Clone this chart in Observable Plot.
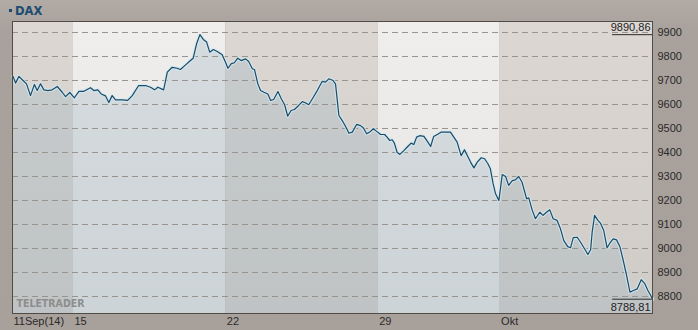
<!DOCTYPE html>
<html>
<head>
<meta charset="utf-8">
<script src="https://cdn.jsdelivr.net/npm/d3@7"></script>
<script src="https://cdn.jsdelivr.net/npm/@observablehq/plot@0.6"></script>
<style>
  html, body { margin: 0; padding: 0; background: #aaa29c; }
  #wrap { position: relative; width: 698px; height: 330px; overflow: hidden;
          background: linear-gradient(#b2aba5, #a9a19b 30px, #a8a09a); }
  #title { position: absolute; left: 9px; top: 4px; font: bold 11.5px "DejaVu Sans", sans-serif; color: #1b4b70; letter-spacing: 0px; }
  #title .b { display: inline-block; width: 3px; height: 3px; background: #1b4b70; vertical-align: middle; margin-right: 3px; position: relative; top: -1px; }
  #chart { position: absolute; left: 0; top: 0; }
</style>
</head>
<body>
<div id="wrap">
  <div id="chart"></div>
  <div id="title"><span class="b"></span>DAX</div>
</div>
<script>
// Trading-day position (0 = 11 Sep 2014 open, 21 = 10 Oct 2014 close)
const times = [
  0.02,0.10,0.21,0.37,0.46,0.59,0.72,0.81,0.92,1.03,1.16,1.30,1.47,1.63,1.74,1.88,
  2.03,2.18,2.34,2.56,2.67,2.80,2.91,3.05,3.16,3.27,3.38,3.60,3.78,3.93,4.14,4.36,
  4.53,4.66,4.77,4.96,5.08,5.24,5.40,5.51,5.68,5.84,5.93,6.04,6.15,6.26,6.37,6.47,
  6.59,6.72,6.88,6.99,7.07,7.18,7.28,7.39,7.50,7.65,7.75,7.87,7.94,8.05,8.14,8.25,
  8.38,8.47,8.57,8.71,8.82,8.93,9.03,9.14,9.25,9.39,9.51,9.61,9.72,9.87,10.00,10.16,
  10.27,10.38,10.52,10.60,10.71,10.82,10.93,11.04,11.15,11.29,11.42,11.51,11.62,11.72,
  11.84,11.94,12.08,12.21,12.29,12.38,12.46,12.53,12.62,12.71,12.84,12.97,13.08,13.17,
  13.26,13.36,13.50,13.63,13.72,13.82,13.94,14.07,14.21,14.37,14.48,14.59,14.72,14.83,
  14.94,15.03,15.14,15.25,15.38,15.49,15.60,15.68,15.77,15.85,15.96,16.07,16.18,16.28,
  16.40,16.50,16.61,16.72,16.87,16.94,17.05,17.16,17.30,17.41,17.52,17.63,17.74,17.87,
  17.98,18.09,18.22,18.31,18.40,18.53,18.64,18.77,18.88,18.97,19.02,19.10,19.21,19.29,
  19.40,19.51,19.60,19.71,19.82,19.93,20.04,20.15,20.26,20.37,20.50,20.63,20.74,20.85,
  20.96,21.00
];
const values = [
  9717,9689,9717,9697,9686,9637,9683,9658,9686,9661,9658,9661,9675,9651,9633,9650,
  9628,9655,9655,9670,9658,9661,9644,9636,9608,9637,9619,9619,9617,9637,9679,9679,
  9672,9661,9672,9661,9735,9755,9751,9746,9765,9783,9793,9853,9891,9871,9860,9818,
  9829,9821,9807,9776,9751,9770,9774,9793,9783,9790,9779,9749,9746,9686,9658,9651,
  9644,9617,9621,9654,9624,9599,9551,9575,9579,9596,9612,9607,9599,9630,9658,9696,
  9693,9707,9700,9685,9554,9533,9508,9480,9485,9517,9512,9503,9478,9485,
  9499,9489,9475,9475,9464,9450,9453,9439,9401,9392,9408,9425,9439,9433,
  9464,9470,9467,9443,9425,9467,9475,9485,9485,9485,9464,9443,9387,9411,
  9383,9360,9336,9360,9378,9374,9353,9332,9270,9228,9200,9308,9300,9263,
  9283,9286,9300,9276,9207,9211,9161,9124,9151,9138,9151,9161,9124,9117,
  9082,9033,9008,9003,9045,9047,9026,8999,8975,8995,9068,9138,9117,9106,
  9075,9003,9022,9040,9036,9008,8950,8888,8818,8825,8832,8870,8855,8825,
  8800,8788.81
];
// Week bands (trading-day positions) and x tick labels
const bandStart = [0, 2, 7, 12, 16];
const bandEnd   = [2, 7, 12, 16, 21];
const bandShade = ["dark", "light", "dark", "light", "dark"];
const xTicks = [0, 2, 7, 12, 16];
const xLabels = ["11Sep(14)", "15", "22", "29", "Okt"];
const yTicks = [8800, 8900, 9000, 9100, 9200, 9300, 9400, 9500, 9600, 9700, 9800, 9900];
const highValue = 9890.86, highLabel = "9890,86";
const lowValue = 8788.81, lowLabel = "8788,81";
const markerFrom = 19.69, markerTo = 21;

const data = times.map((t, i) => ({t, v: values[i]}));
const bands = bandStart.map((s, i) => ({x1: s, x2: bandEnd[i], shade: bandShade[i]}));

const fontF = "Liberation Sans, Arial, sans-serif";

const chart = Plot.plot({
  width: 698,
  height: 330,
  marginTop: 21,
  marginLeft: 12,
  marginRight: 46,
  marginBottom: 17,
  style: {background: "transparent", fontFamily: fontF, fontSize: "11px", color: "#2a2a2a", overflow: "visible"},
  x: {domain: [0, 21], axis: null, label: null},
  y: {domain: [8729.2, 9945.8], axis: null, label: null},
  marks: [
    Plot.rectY(bands, {x1: "x1", x2: "x2", y1: 8729.2, y2: 9945.8,
      fill: d => d.shade === "dark" ? "url(#gDark)" : "url(#gLight)"}),
    Plot.areaY(data, {x: "t", y: "v", fill: "#9fb3c0", fillOpacity: 0.32, clip: true}),
    Plot.ruleY(yTicks, {stroke: "#97938f", strokeWidth: 1, strokeDasharray: "6,4"}),
    Plot.line(data, {x: "t", y: "v", stroke: "#d2e8f1", strokeWidth: 3.5, strokeOpacity: 0.8}),
    Plot.line(data, {x: "t", y: "v", stroke: "#1b4a66", strokeWidth: 1.2}),
    Plot.ruleY([highValue], {x1: markerFrom, x2: markerTo, stroke: "#2a2a2a", strokeWidth: 1}),
    Plot.ruleY([lowValue], {x1: markerFrom, x2: markerTo, stroke: "#2a2a2a", strokeWidth: 1}),
    Plot.text([highLabel], {x: markerTo, y: highValue, text: d => d, textAnchor: "end", dx: -2, dy: -7, fill: "#222", fontSize: 11}),
    Plot.text([lowLabel], {x: markerTo, y: lowValue, text: d => d, textAnchor: "end", dx: -2, dy: 8, fill: "#222", fontSize: 11}),
    Plot.text(["TELETRADER"], {frameAnchor: "bottom-left", dx: 4, dy: -7, text: d => d, textAnchor: "start", fill: "#8d8d8d", fontSize: 10.5, fontWeight: "bold", fontFamily: "DejaVu Sans Condensed, DejaVu Sans, sans-serif"}),
    Plot.frame({stroke: "#514b46", strokeWidth: 1}),
    Plot.axisY(yTicks, {anchor: "right", label: null, tickSize: 0, tickPadding: 5, fontSize: 11, fill: "#2a2a2a", tickFormat: d => String(d)}),
    Plot.axisX(xTicks, {anchor: "bottom", label: null, tickSize: 0, tickPadding: 4, textAnchor: "start", dx: 1, fontSize: 11, fill: "#2a2a2a",
      tickFormat: d => xLabels[xTicks.indexOf(d)]})
  ]
});

// gradients for week bands
const ns = "http://www.w3.org/2000/svg";
const defs = document.createElementNS(ns, "defs");
defs.innerHTML = `
  <linearGradient id="gDark" x1="0" y1="0" x2="0" y2="1">
    <stop offset="0" stop-color="#dcd7d3"/><stop offset="1" stop-color="#cfcbc7"/>
  </linearGradient>
  <linearGradient id="gLight" x1="0" y1="0" x2="0" y2="1">
    <stop offset="0" stop-color="#f0eeec"/><stop offset="1" stop-color="#e3e3e2"/>
  </linearGradient>`;
chart.insertBefore(defs, chart.firstChild);

// TELETRADER logo overline
const tt = [...chart.querySelectorAll("text")].find(t => t.textContent === "TELETRADER");
document.getElementById("chart").appendChild(chart);
if (tt) {
  const bb = tt.getBBox();
  const ln = document.createElementNS(ns, "line");
  ln.setAttribute("x1", bb.x); ln.setAttribute("x2", bb.x + bb.width);
  ln.setAttribute("y1", bb.y + 1); ln.setAttribute("y2", bb.y + 1);
  ln.setAttribute("stroke", "#8d8d8d"); ln.setAttribute("stroke-width", "1");
  tt.parentNode.appendChild(ln);
}
</script>
</body>
</html>
